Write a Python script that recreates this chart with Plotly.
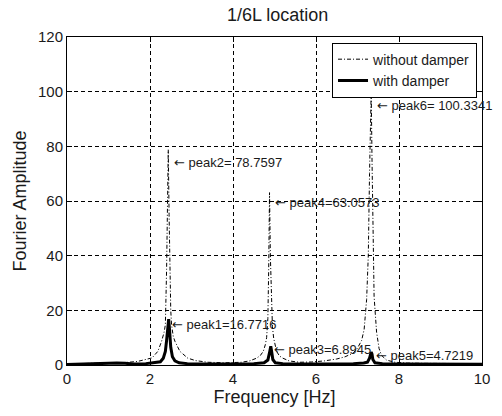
import plotly.graph_objects as go

# Spectrum without the damper (frequency in Hz, Fourier amplitude)
freq_without = [0.0, 0.3, 0.6, 1.0, 1.4, 1.7, 1.9, 2.05, 2.19, 2.28, 2.34, 2.37, 2.40, 2.42,
                2.44, 2.46, 2.48, 2.50, 2.52, 2.56, 2.60, 2.72, 2.91, 3.10, 3.40, 3.80, 4.20,
                4.40, 4.57, 4.66, 4.73, 4.78, 4.81, 4.84, 4.86, 4.88, 4.90, 4.92, 4.95, 4.98,
                5.05, 5.12, 5.20, 5.35, 5.60, 5.90, 6.20, 6.50, 6.70, 6.90, 7.00, 7.10, 7.16,
                7.22, 7.26, 7.29, 7.31, 7.33, 7.35, 7.37, 7.40, 7.46, 7.52, 7.58, 7.70, 7.90,
                8.20, 8.60, 9.00, 9.50, 10.0]
amp_without = [0.4, 0.5, 0.6, 0.7, 0.9, 1.3, 1.9, 2.6, 5.0, 8.7, 12.0, 14.7, 35.0, 60.0,
               78.7597, 55.0, 35.0, 20.0, 14.7, 10.5, 8.7, 5.0, 2.5, 1.6, 1.0, 0.8, 1.0,
               1.5, 2.5, 3.5, 5.0, 7.5, 10.0, 17.0, 35.0, 63.0573, 40.0, 24.0, 14.0, 9.8,
               5.0, 3.3, 2.5, 1.5, 1.0, 1.1, 1.5, 2.2, 3.0, 4.4, 6.2, 9.0, 13.0,
               24.0, 40.0, 70.0, 92.0, 100.3341, 75.0, 45.0, 25.0, 12.0, 6.0, 3.5, 1.8, 1.0,
               0.7, 0.6, 0.5, 0.5, 0.5]

# Spectrum with the damper
freq_with = [0.0, 0.2, 0.5, 0.8, 1.0, 1.2, 1.4, 1.6, 1.9, 2.1, 2.25, 2.32, 2.37, 2.40,
             2.42, 2.44, 2.45, 2.47, 2.50, 2.54, 2.60, 2.70, 2.90, 3.3, 3.7, 4.1, 4.5,
             4.75, 4.84, 4.88, 4.90, 4.91, 4.93, 4.96, 5.02, 5.2, 5.6, 6.0, 6.5, 6.9,
             7.15, 7.24, 7.29, 7.31, 7.33, 7.35, 7.37, 7.42, 7.6, 8.0, 8.5, 9.0, 9.5, 10.0]
amp_with = [0.2, 0.3, 0.3, 0.4, 0.6, 0.7, 0.6, 0.4, 0.5, 0.8, 1.2, 2.5, 5.0, 9.0,
            13.0, 15.5, 16.7716, 13.0, 6.5, 3.0, 1.5, 0.8, 0.5, 0.4, 0.4, 0.4, 0.5,
            0.8, 1.8, 4.5, 6.0, 6.8945, 5.0, 2.0, 0.8, 0.5, 0.4, 0.4, 0.4, 0.5,
            0.7, 1.0, 2.5, 4.0, 4.7219, 4.0, 2.0, 0.8, 0.5, 0.4, 0.4, 0.3, 0.3, 0.3]

# Peak annotations: name, value, text anchor (Hz, amplitude)
peak_names = ["peak1", "peak2", "peak3", "peak4", "peak5", "peak6"]
peak_values = [16.7716, 78.7597, 6.8945, 63.0573, 4.7219, 100.3341]
peak_seps = ["=", "= ", "=", "=", "=", "= "]
label_x = [2.48, 2.52, 4.93, 4.97, 7.40, 7.42]
label_y = [14.9, 74.1, 5.8, 59.5, 3.4, 94.9]

x_ticks = [0, 2, 4, 6, 8, 10]
y_ticks = [0, 20, 40, 60, 80, 100, 120]

FONT = "Liberation Sans, Arial, sans-serif"
INK = "#1a1a1a"
ARROW = '<span style="font-family:DejaVu Sans">\u2190</span>'

fig = go.Figure()
fig.add_trace(go.Scatter(
    x=freq_without, y=amp_without, mode="lines", name="without damper",
    line=dict(color="black", width=1, dash="4px,2px,1px,2px"),
))
fig.add_trace(go.Scatter(
    x=freq_with, y=amp_with, mode="lines", name="with damper",
    line=dict(color="black", width=3),
))

for name, val, sep, lx, ly in zip(peak_names, peak_values, peak_seps, label_x, label_y):
    fig.add_annotation(
        x=lx, y=ly, xref="x", yref="y", showarrow=False,
        text=f"{ARROW} {name}{sep}{val:.4f}", xanchor="left", yanchor="middle",
        font=dict(family=FONT, size=13, color=INK),
    )

axis_common = dict(
    showline=True, linecolor="black", linewidth=1, mirror="ticks",
    ticks="inside", ticklen=5, tickcolor="black",
    showgrid=True, gridcolor="black", gridwidth=1, griddash="4px,3px",
    zeroline=False, tickfont=dict(family=FONT, size=15, color=INK),
)

fig.update_xaxes(
    range=[0, 10], tickvals=x_ticks, ticktext=[str(v) for v in x_ticks],
    title=dict(text="Frequency [Hz]", font=dict(family=FONT, size=18, color=INK), standoff=4),
    **axis_common,
)
fig.update_yaxes(
    range=[0, 120], tickvals=y_ticks, ticktext=[str(v) for v in y_ticks],
    title=dict(text="Fourier Amplitude", font=dict(family=FONT, size=18, color=INK), standoff=6),
    **axis_common,
)

fig.update_layout(
    width=502, height=416,
    margin=dict(l=67, r=13, t=37, b=49),
    paper_bgcolor="white", plot_bgcolor="white",
    title=dict(text="1/6L location", x=0.553, xanchor="center", y=0.965, yanchor="middle",
               font=dict(family=FONT, size=18, color=INK)),
    showlegend=True,
    legend=dict(
        x=0.988, y=0.983, xanchor="right", yanchor="top",
        bgcolor="white", bordercolor="black", borderwidth=1,
        font=dict(family=FONT, size=14, color=INK),
        itemwidth=30, tracegroupgap=0,
    ),
)

fig.write_html("out.html")
